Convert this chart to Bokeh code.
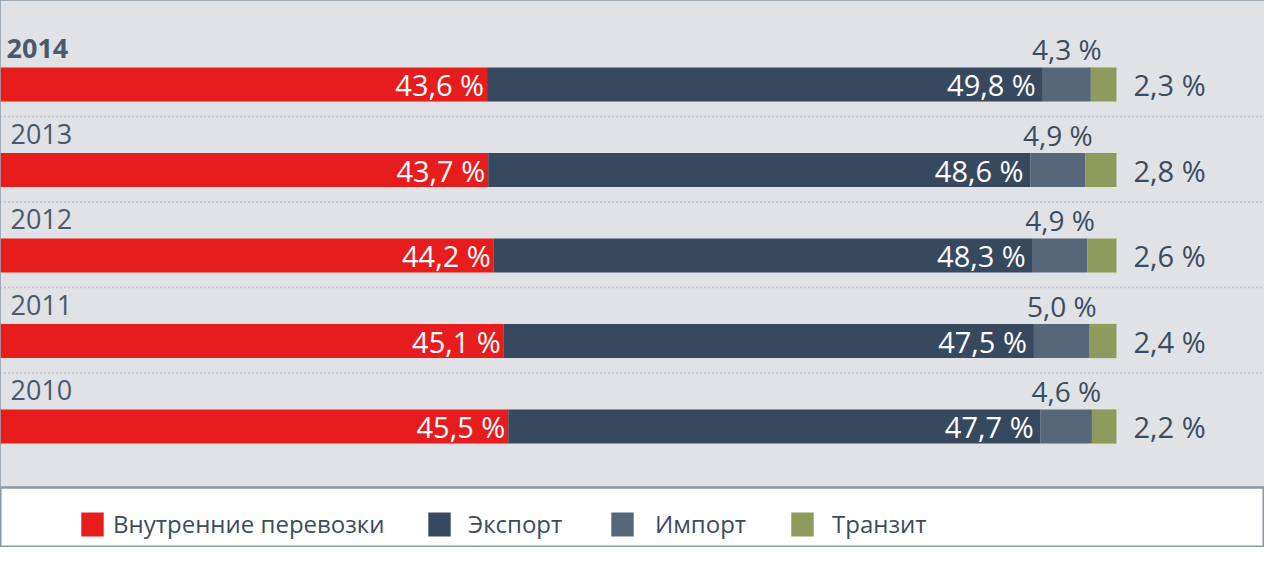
import numpy as np
from bokeh.plotting import figure
from bokeh.models import (ColumnDataSource, Range1d, Span, BoxAnnotation,
                          Legend, LegendItem)
from bokeh.core.properties import value
from bokeh.embed import file_html
from bokeh.resources import INLINE

years = ["2014", "2013", "2012", "2011", "2010"]
domestic = [43.6, 43.7, 44.2, 45.1, 45.5]
export = [49.8, 48.6, 48.3, 47.5, 47.7]
imports = [4.3, 4.9, 4.9, 5.0, 4.6]
transit = [2.3, 2.8, 2.6, 2.4, 2.2]

series = ["domestic", "export", "imports", "transit"]
labels = ["Внутренние перевозки", "Экспорт", "Импорт", "Транзит"]
colors = ["#e71d1d", "#36495f", "#56677a", "#8f9a5d"]

FONT = value("Open Sans")
TEXT = "#3b4c60"


def pct(v):
    return f"{v:.1f} %".replace(".", ",")


rows = list(range(len(years)))
d = np.array(domestic)
e = np.array(export)
i = np.array(imports)
t = np.array(transit)

src = ColumnDataSource(dict(
    row=rows, year=years,
    domestic=domestic, export=export, imports=imports, transit=transit,
    d_end=d, e_end=d + e, i_mid=d + e + i / 2, t_end=d + e + i + t,
    d_lab=[pct(v) for v in domestic], e_lab=[pct(v) for v in export],
    i_lab=[pct(v) for v in imports], t_lab=[pct(v) for v in transit],
))

W, H = 1264, 547
px_per_pct = 11.16
row_px = 85.5
first_px = 84  # centre of first bar, from top of figure

p = figure(width=W, height=H, output_backend="svg", toolbar_location=None,
           x_range=Range1d(0, W / px_per_pct),
           y_range=Range1d((H - first_px) / row_px, -first_px / row_px))
p.min_border = 0
p.axis.visible = False
p.grid.visible = False
p.background_fill_color = "white"
p.border_fill_color = "white"
p.outline_line_color = "#8c97a3"
p.outline_line_width = 2

panel_bottom = (487 - first_px) / row_px
p.add_layout(BoxAnnotation(top=p.y_range.end, bottom=panel_bottom,
                           fill_color="#e1e2e6", fill_alpha=1, line_color=None,
                           level="underlay"))
p.add_layout(Span(location=panel_bottom, dimension="width",
                  line_color="#8c97a3", line_width=2.5))

for r in rows[:-1]:
    p.add_layout(Span(location=r + 0.375, dimension="width", line_color="#99a2ad",
                      line_width=1.5, line_dash="1 3"))

bars = p.hbar_stack(series, y="row", height=0.4, color=colors, line_color=None,
                    source=src)

# labels inside bars
p.text(x="d_end", y="row", text="d_lab", source=src, text_align="right",
       text_baseline="middle", x_offset=-3, text_color="white",
       text_font=FONT, text_font_size="29px")
p.text(x="e_end", y="row", text="e_lab", source=src, text_align="right",
       text_baseline="middle", x_offset=-7, text_color="white",
       text_font=FONT, text_font_size="29px")
p.text(x="i_mid", y="row", text="i_lab", source=src, text_align="center",
       text_baseline="alphabetic", y_offset=-0.2 * row_px - 18, text_color=TEXT,
       text_font=FONT, text_font_size="28px")
p.text(x="t_end", y="row", text="t_lab", source=src, text_align="left",
       text_baseline="middle", x_offset=17, text_color=TEXT,
       text_font=FONT, text_font_size="29px")

# year labels
top_src = ColumnDataSource(dict(row=rows[:1], year=years[:1]))
rest_src = ColumnDataSource(dict(row=rows[1:], year=years[1:]))
p.text(x=0, y="row", text="year", source=top_src, x_offset=6,
       y_offset=-0.2 * row_px - 19, text_baseline="alphabetic",
       text_color="#4a5a6d", text_font=FONT, text_font_size="27px",
       text_font_style="bold")
p.text(x=0, y="row", text="year", source=rest_src, x_offset=10,
       y_offset=-0.2 * row_px - 19, text_baseline="alphabetic",
       text_color="#4a5a6d", text_font=FONT, text_font_size="27px")

# one legend per item, so each sits where the original puts it
leg_x = [78, 425, 608, 788]
leg_gap = [7, 15, 19, 16]
for r, lab, x, gap in zip(bars, labels, leg_x, leg_gap):
    leg = Legend(items=[LegendItem(label=lab, renderers=[r])], location=(x, 7),
                 glyph_width=28, glyph_height=30, label_height=30,
                 label_standoff=gap, padding=0, margin=0,
                 border_line_color=None, background_fill_alpha=0,
                 label_text_font="Open Sans", label_text_font_size="24px",
                 label_text_color=TEXT)
    p.add_layout(leg)

open("out.html", "w").write(file_html(p, INLINE))
